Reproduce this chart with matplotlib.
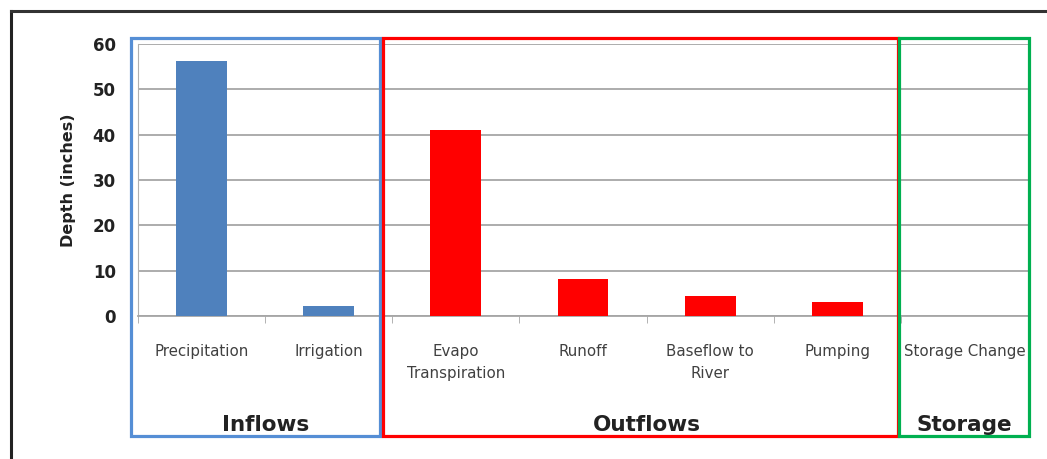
import matplotlib.pyplot as plt
import matplotlib.transforms as mtransforms
from matplotlib.lines import Line2D
from matplotlib.patches import Rectangle
import numpy as np

categories = ['Precipitation', 'Irrigation', 'Evapo\nTranspiration', 'Runoff',
              'Baseflow to\nRiver', 'Pumping', 'Storage Change']
depths = [56.3, 2.2, 41.1, 8.2, 4.4, 3.1, 0.0]
bar_colors = ['#4f81bd', '#4f81bd', '#ff0000', '#ff0000', '#ff0000', '#ff0000', '#ff0000']

# water budget groups: name, first/last category index, frame colour
groups = [('Inflows', 0, 1, '#558ed5'),
          ('Outflows', 2, 5, '#ff0000'),
          ('Storage', 6, 6, '#00b050')]

plt.rcParams['font.family'] = 'DejaVu Sans'

fig = plt.figure(figsize=(10.47, 4.59), dpi=100)
fig.patch.set_facecolor('white')
ax = fig.add_axes([138 / 1047, 143 / 459, 890 / 1047, 272 / 459])

x = np.arange(len(categories))
ax.bar(x, depths, width=0.4, color=bar_colors, zorder=3)

ax.set_xlim(-0.5, len(categories) - 0.5)
ax.set_ylim(0, 60)
ax.set_yticks(np.arange(0, 61, 10))
ax.yaxis.grid(True, color='#a6a6a6', linewidth=1.3, zorder=0)
ax.set_axisbelow(True)

for s in ['top', 'right']:
    ax.spines[s].set_visible(False)
ax.spines['left'].set_color('#b0b0b0')
ax.spines['bottom'].set_color('#a6a6a6')
ax.spines['bottom'].set_linewidth(1.3)

ax.set_xticks(x)
ax.set_xticklabels(categories, fontsize=10.8, color='#404040', linespacing=1.6,
                   va='top')
ax.set_xticks(np.arange(-0.5, len(categories)), minor=True)
ax.tick_params(axis='x', which='major', length=0, pad=20)
ax.tick_params(axis='x', which='minor', length=5, color='#a6a6a6')
ax.tick_params(axis='y', length=0, pad=16)
for lab in ax.get_yticklabels():
    lab.set_fontweight('bold')
    lab.set_fontsize(12)
    lab.set_color('#222222')
ax.set_ylabel('Depth (inches)', fontsize=11.5, fontweight='bold', labelpad=12,
              color='#222222')

# coloured frames around each group, x in data units, y in axes fraction
trans = mtransforms.blended_transform_factory(ax.transData, ax.transAxes)
px = lambda p: (p - 138) / 127 - 0.5
frames = [(px(131), px(380)), (px(383), px(897)), (px(898), px(1028))]
y0, y1 = (316 - 436) / 272, (316 - 38) / 272
for (name, i0, i1, col), (fx0, fx1) in zip(groups, frames):
    ax.add_patch(Rectangle((fx0, y0), fx1 - fx0, y1 - y0, transform=trans,
                           fill=False, edgecolor=col, linewidth=2.3,
                           clip_on=False, zorder=5))
    ax.text((i0 + i1) / 2, (316 - 425) / 272, name, transform=trans,
            ha='center', va='center', fontsize=15.5, fontweight='bold',
            color='#222222')

# outer frame
fig.add_artist(Line2D([11 / 1047, 11 / 1047], [0, 1 - 11 / 459],
                      color='#222222', linewidth=2.2))
fig.add_artist(Line2D([11 / 1047, 1], [1 - 11 / 459, 1 - 11 / 459],
                      color='#333333', linewidth=2.2))

fig.savefig('out.png', dpi=100)
